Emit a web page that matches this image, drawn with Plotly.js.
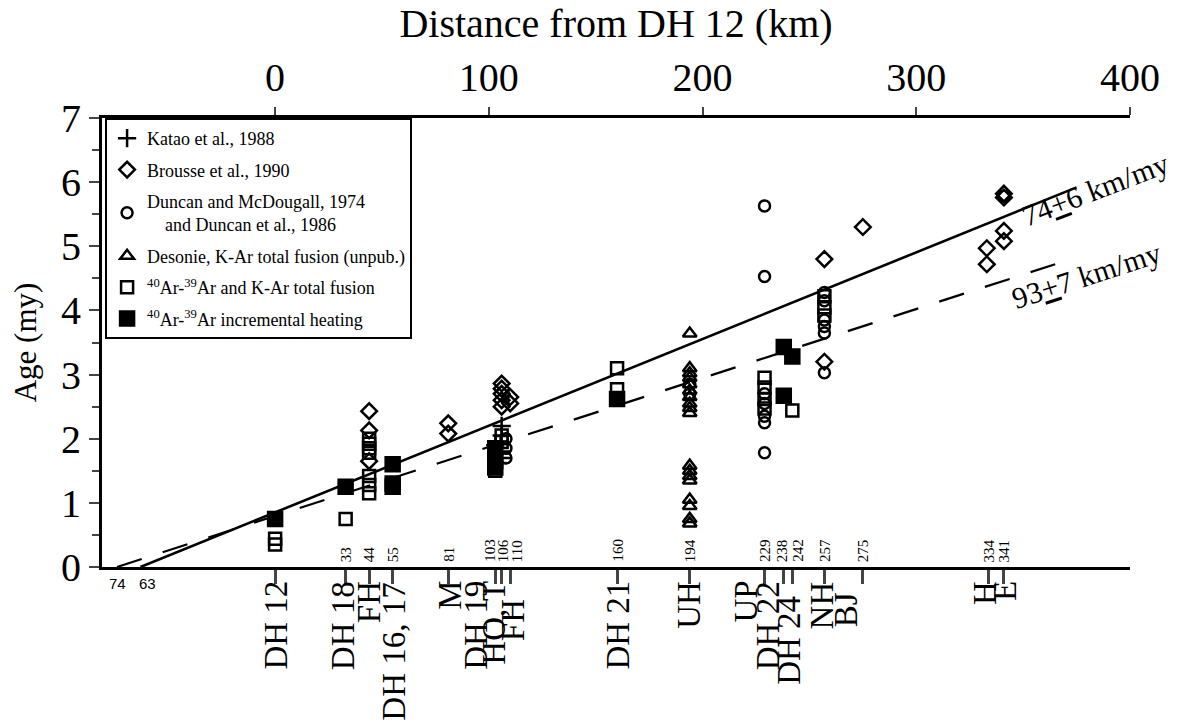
<!DOCTYPE html>
<html>
<head>
<meta charset="utf-8">
<script src="https://cdn.plot.ly/plotly-3.0.1.min.js"></script>
<style>html,body{margin:0;padding:0;background:#fff;}#chart{width:1185px;height:725px;}</style>
</head>
<body>
<div id="chart"></div>
<script>
// Stations along the chain (distance from DH 12, km)
const stationDist = [0, 33, 44, 55, 81, 103, 106, 110, 160, 194, 229, 238, 242, 257, 275, 334, 341];
const stationNames = ["DH 12", "DH 18", "FH", "DH 16, 17", "M", "DH 19", "HO, T", "FH", "DH 21", "UH", "UP", "DH 22", "DH 24", "NH", "BJ", "H", "E"];
const distLabels = ["", "33", "44", "55", "81", "103", "106", "110", "160", "194", "229", "238", "242", "257", "275", "334", "341"];

// Katao et al., 1988 (+)
const kataoDist = [106, 106, 103, 106, 106, 104];
const kataoAge  = [2.2, 2.05, 1.9, 1.8, 1.7, 1.62];

// Brousse et al., 1990 (diamonds)
const brousseDist = [44, 44, 44, 81, 81, 106, 106, 106, 106, 106, 110, 110, 257, 257, 275, 333, 333, 341, 341, 341, 341];
const brousseAge  = [2.43, 2.13, 1.65, 2.24, 2.08, 2.86, 2.78, 2.7, 2.6, 2.5, 2.65, 2.55, 4.8, 3.2, 5.3, 4.97, 4.72, 5.82, 5.76, 5.24, 5.08];

// Duncan and McDougall, 1974 and Duncan et al., 1986 (circles)
const duncanDist = [108, 108, 108, 194, 194, 229, 229, 229, 229, 229, 229, 229, 257, 257, 257, 257, 257, 257, 341];
const duncanAge  = [2.0, 1.85, 1.7, 2.85, 2.7, 5.63, 4.53, 2.7, 2.55, 2.35, 2.25, 1.78, 4.28, 4.15, 3.85, 3.75, 3.65, 3.03, 5.78];

// Desonie, K-Ar total fusion (triangles)
const desonieDist = [194, 194, 194, 194, 194, 194, 194, 194, 194, 194, 194, 194, 194, 194, 194, 194, 194, 194];
const desonieAge  = [3.64, 3.1, 3.02, 2.95, 2.85, 2.75, 2.65, 2.55, 2.48, 2.4, 1.58, 1.5, 1.42, 1.35, 1.05, 0.95, 0.75, 0.68];

// 40Ar-39Ar and K-Ar total fusion (open squares)
const totalDist = [0, 0, 33, 44, 44, 44, 44, 44, 44, 44, 106, 106, 103, 160, 160, 229, 229, 229, 229, 242, 257, 257, 257];
const totalAge  = [0.44, 0.35, 0.75, 2.0, 1.92, 1.85, 1.78, 1.42, 1.28, 1.15, 2.05, 1.95, 1.5, 3.1, 2.77, 2.95, 2.8, 2.62, 2.47, 2.44, 4.22, 4.05, 3.92];

// 40Ar-39Ar incremental heating (filled squares)
const incrDist = [0, 33, 55, 55, 55, 103, 103, 103, 160, 238, 238, 242];
const incrAge  = [0.75, 1.25, 1.6, 1.3, 1.25, 1.85, 1.65, 1.55, 2.62, 3.43, 2.67, 3.28];

// Regression lines: rate (km/my) and zero-age origin (km)
const fastRate = 74, fastOrigin = -63, fastEnd = 375;
const slowRate = 93, slowOrigin = -74, slowEnd = 365;

const serif = "Liberation Serif, Times New Roman, serif";

function pts(name, x, y, symbol, size) {
  return {
    type: "scatter", mode: "markers", name: name, x: x, y: y, legendgroup: name,
    marker: {symbol: symbol, size: size, color: "black", line: {color: "black", width: 2.5}},
    cliponaxis: false
  };
}

const traces = [
  {type: "scatter", mode: "lines", x: [fastOrigin, fastEnd], y: [0, (fastEnd - fastOrigin) / fastRate],
   line: {color: "black", width: 2.6}, showlegend: false, hoverinfo: "skip"},
  {type: "scatter", mode: "lines", x: [slowOrigin, slowEnd], y: [0, (slowEnd - slowOrigin) / slowRate],
   line: {color: "black", width: 2.2, dash: "26px,22px"}, showlegend: false, hoverinfo: "skip"},
  pts("Katao et al., 1988", kataoDist, kataoAge, "cross-thin-open", 13),
  pts("Brousse et al., 1990", brousseDist, brousseAge, "diamond-open", 12),
  pts("Duncan and McDougall, 1974<br>    and Duncan et al., 1986", duncanDist, duncanAge, "circle-open", 11),
  pts("Desonie, K-Ar total fusion (unpub.)", desonieDist, desonieAge, "triangle-up-open", 12),
  pts("<sup>40</sup>Ar-<sup>39</sup>Ar and K-Ar total fusion", totalDist, totalAge, "square-open", 12),
  pts("<sup>40</sup>Ar-<sup>39</sup>Ar incremental heating", incrDist, incrAge, "square", 14)
];

const annotations = [];
const numShiftX = [0, 0, 0, 0, 0, -6, 1, 7, 0, 0, 0, -2, 5, 0, 0, 0, 0];
stationDist.forEach((d, i) => {
  if (!distLabels[i]) return;
  annotations.push({x: d, y: 0, xref: "x", yref: "y", text: distLabels[i], showarrow: false,
    textangle: -90, xanchor: "center", yanchor: "bottom", yshift: 3, xshift: numShiftX[i],
    font: {family: serif, size: 15, color: "black"}});
});
// Station names below the axis, with offsets where labels crowd
const nameShiftX = [0, -3, 0, 1, 1, -20, -8, 3, 0, -1, -19, -16, -4, -2, -17, -4, 1];
const nameShiftY = [0, 0, 0, -2, 0, 0, 0, -18, 0, 0, 0, 0, -15, 0, -11, 0, 0];
stationNames.forEach((n, i) => {
  annotations.push({x: stationDist[i], y: 0, xref: "x", yref: "y", text: n, showarrow: false,
    textangle: -90, xanchor: "center", yanchor: "top", yshift: -12 + nameShiftY[i], xshift: nameShiftX[i],
    font: {family: serif, size: 33, color: "black"}});
});
annotations.push({x: 0.0146, y: 0, xref: "paper", yref: "y", text: "74", showarrow: false, xanchor: "center", yanchor: "top", yshift: -6,
  font: {family: "Liberation Sans, Arial, sans-serif", size: 15, color: "black"}});
annotations.push({x: 0.0438, y: 0, xref: "paper", yref: "y", text: "63", showarrow: false, xanchor: "center", yanchor: "top", yshift: -6,
  font: {family: "Liberation Sans, Arial, sans-serif", size: 15, color: "black"}});
annotations.push({x: 0.966, y: 0.84, xref: "paper", yref: "paper", text: "74<u>+</u>6 km/my", showarrow: false,
  xanchor: "center", yanchor: "middle", textangle: -21, font: {family: serif, size: 30, color: "black"}});
annotations.push({x: 0.957, y: 0.65, xref: "paper", yref: "paper", text: "93<u>+</u>7 km/my", showarrow: false,
  xanchor: "center", yanchor: "middle", textangle: -18, font: {family: serif, size: 30, color: "black"}});

const layout = {
  width: 1185, height: 725,
  margin: {l: 102, r: 55, t: 118, b: 158},
  paper_bgcolor: "white", plot_bgcolor: "white",
  showlegend: true,
  legend: {x: 0.003, y: 1, xanchor: "left", yanchor: "top", bgcolor: "white",
    bordercolor: "black", borderwidth: 2, tracegroupgap: 5,
    font: {family: serif, size: 18, color: "black"}, itemwidth: 30},
  font: {family: serif, color: "black"},
  xaxis: {range: [-81, 400], side: "top", tickvals: [0, 100, 200, 300, 400],
    showline: true, linewidth: 3, linecolor: "black", ticks: "outside", ticklen: 8, tickwidth: 2,
    showgrid: false, zeroline: false, tickfont: {family: serif, size: 40},
    title: {text: "Distance from DH 12 (km)", font: {family: serif, size: 40}, standoff: 6}},
  xaxis2: {range: [-81, 400], overlaying: "x", side: "bottom", anchor: "y", tickvals: stationDist,
    showticklabels: false, showline: true, linewidth: 3, linecolor: "black", ticks: "outside",
    ticklen: 14, tickwidth: 3, showgrid: false, zeroline: false},
  yaxis: {range: [0, 7], tickvals: [0, 1, 2, 3, 4, 5, 6, 7], showline: true, linewidth: 3, linecolor: "black",
    ticks: "outside", ticklen: 10, tickwidth: 2, showgrid: false, zeroline: false,
    tickfont: {family: serif, size: 40},
    minor: {tickvals: [0.5, 1.5, 2.5, 3.5, 4.5, 5.5, 6.5], ticks: "outside", ticklen: 7, tickwidth: 2},
    title: {text: "Age (my)", font: {family: serif, size: 31}, standoff: 16}},
  annotations: annotations
};

// invisible anchor trace so the bottom station axis is drawn
traces.push({type: "scatter", x: [0], y: [0], xaxis: "x2", mode: "markers", marker: {opacity: 0}, showlegend: false, hoverinfo: "skip"});

Plotly.newPlot("chart", traces, layout, {displayModeBar: false, staticPlot: true});
</script>
</body>
</html>
